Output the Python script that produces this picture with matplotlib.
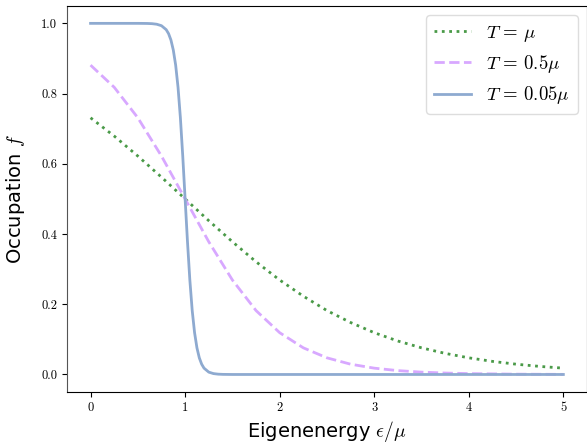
import matplotlib
matplotlib.use("Agg")
import matplotlib.pyplot as plt

plt.rcParams['mathtext.fontset'] = 'cm'

# T = mu
x1 = [0, 0.25, 0.5, 0.75, 1.0, 1.25, 1.5, 1.75, 2.0, 2.25, 2.5, 2.75, 3.0, 3.25, 3.5, 3.75, 4.0, 4.25, 4.5, 4.75, 5.0]
f1 = [0.731, 0.679, 0.622, 0.562, 0.5, 0.438, 0.378, 0.321, 0.269, 0.223, 0.182, 0.148, 0.119, 0.0953, 0.0759, 0.0601, 0.0474, 0.0373, 0.0293, 0.0230, 0.0180]

# T = 0.5 mu
x2 = [0, 0.25, 0.5, 0.75, 1.0, 1.25, 1.5, 1.75, 2.0, 2.25, 2.5, 2.75, 3.0, 3.25, 3.5, 3.75, 4.0, 4.5, 5.0]
f2 = [0.881, 0.818, 0.731, 0.622, 0.5, 0.378, 0.269, 0.182, 0.119, 0.0759, 0.0474, 0.0293, 0.0180, 0.0110, 0.0067, 0.0041, 0.0025, 0.0009, 0.0003]

# T = 0.05 mu
x3 = [0, 0.5, 0.6, 0.65, 0.7, 0.75, 0.8, 0.825, 0.85, 0.875, 0.9, 0.925, 0.95, 0.975, 1.0,
      1.025, 1.05, 1.075, 1.1, 1.125, 1.15, 1.175, 1.2, 1.25, 1.3, 1.35, 1.4, 1.5, 5.0]
f3 = [1.0, 1.0, 0.9997, 0.9991, 0.9975, 0.9933, 0.982, 0.9707, 0.9526, 0.924, 0.881, 0.818, 0.731, 0.622, 0.5,
      0.378, 0.269, 0.182, 0.119, 0.0759, 0.0474, 0.0293, 0.018, 0.0067, 0.0025, 0.0009, 0.0003, 0.0, 0.0]

labels = [r'$T\,=\,\mu$', r'$T\,=\,0.5\mu$', r'$T\,=\,0.05\mu$']

fig = plt.figure(figsize=(5.87, 4.46), dpi=100)
ax = fig.add_axes([0.114, 0.121, 0.886, 0.866])

ax.plot(x1, f1, ':', color='#4a9a48', lw=2, label=labels[0])
ax.plot(x2, f2, '--', color='#d8a8ff', lw=2, label=labels[1])
ax.plot(x3, f3, '-', color='#8eaad0', lw=2, label=labels[2])

ax.set_xticks([0, 1, 2, 3, 4, 5])
ax.set_yticks([0.0, 0.2, 0.4, 0.6, 0.8, 1.0])
ax.set_xticklabels(['0', '1', '2', '3', '4', '5'])
ax.set_yticklabels(['0.0', '0.2', '0.4', '0.6', '0.8', '1.0'])
for lab in ax.get_xticklabels() + ax.get_yticklabels():
    lab.set_family('cmr10')
    lab.set_fontsize(9)

ax.set_xlabel(r'Eigenenergy $\epsilon/\mu$', fontsize=14, labelpad=4)
ax.set_ylabel(r'Occupation $f$', fontsize=14, labelpad=10)
ax.spines['left'].set_color('#555555')

ax.legend(loc='upper right', fontsize=13.5, framealpha=1, handlelength=2.0,
          edgecolor='#dddddd')

fig.savefig('out.png', dpi=100)
